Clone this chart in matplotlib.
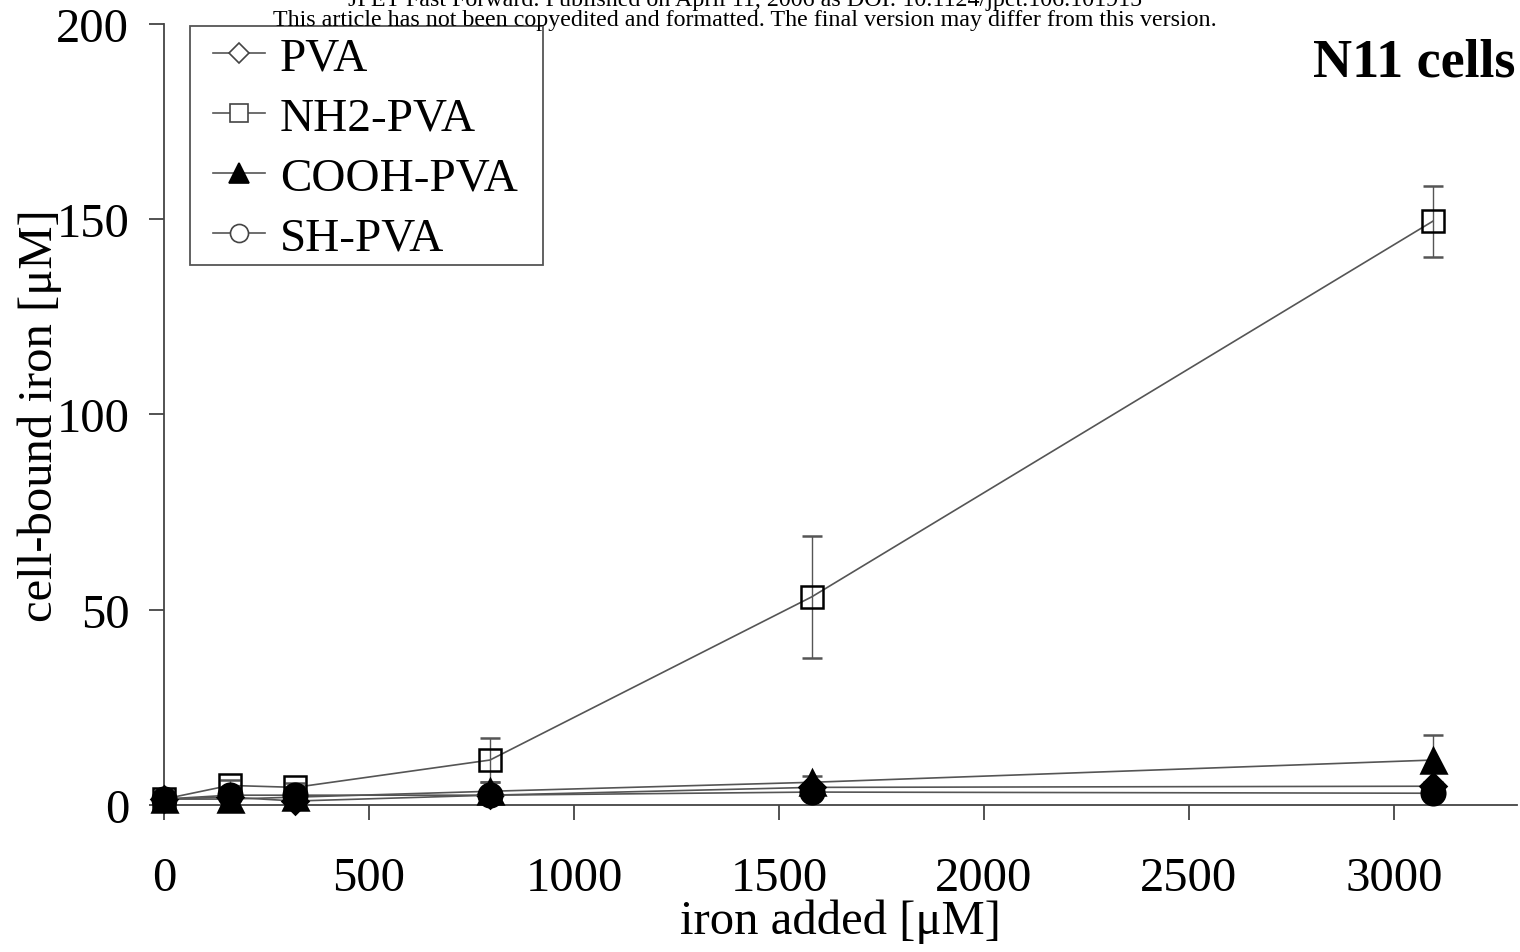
import matplotlib
matplotlib.use("Agg")
import matplotlib.pyplot as plt
from matplotlib.lines import Line2D
from matplotlib.patches import Rectangle

plt.rcParams['font.family'] = ['Liberation Serif', 'DejaVu Serif']
plt.rcParams['mathtext.fontset'] = 'stix'

iron_added = [0, 160, 320, 795, 1580, 3095]
pva = [1.5, 2.0, 1.0, 2.5, 4.5, 4.8]
pva_err = [0.3, 0.5, 0.4, 0.8, 0.8, 1.0]
nh2_pva = [1.5, 5.0, 4.5, 11.5, 53.3, 149.5]
nh2_err = [0.5, 1.5, 1.0, 5.7, 15.6, 9.1]
cooh_pva = [1.5, 1.5, 2.0, 3.5, 5.8, 11.5]
cooh_err = [0.3, 0.5, 0.5, 2.5, 1.5, 6.5]
sh_pva = [1.5, 2.5, 2.5, 2.5, 3.3, 3.0]
sh_err = [0.3, 0.5, 0.5, 0.5, 0.6, 0.8]

labels = ["PVA", "NH2-PVA", "COOH-PVA", "SH-PVA"]
x_ticks = [0, 500, 1000, 1500, 2000, 2500, 3000]
y_ticks = [0, 50, 100, 150, 200]

W, H = 1520, 953
fig = plt.figure(figsize=(15.2, 9.53), dpi=100)
ax = fig.add_axes([0.1079, 0.1543, 0.8901, 0.8195])

lc = '#555555'
common = dict(color=lc, lw=1.2, ecolor=lc, elinewidth=1.0, capsize=7, capthick=1.0,
              markeredgecolor='black', markeredgewidth=1.8, clip_on=False)

ax.errorbar(iron_added, nh2_pva, yerr=nh2_err, marker='s', ms=16, mfc='none', zorder=3, **common)
ax.errorbar(iron_added, cooh_pva, yerr=cooh_err, marker='^', ms=18, mfc='black', zorder=4, **common)
ax.errorbar(iron_added, pva, yerr=pva_err, marker='D', ms=13, mfc='black', zorder=4, **common)
ax.errorbar(iron_added, sh_pva, yerr=sh_err, marker='o', ms=17, mfc='black', zorder=5, **common)

ax.set_xlim(0, 3300)
ax.set_ylim(0, 200)
ax.set_xticks(x_ticks)
ax.set_yticks(y_ticks)
for s in ['top', 'right']:
    ax.spines[s].set_visible(False)
for s in ['left', 'bottom']:
    ax.spines[s].set_color('#444444')
    ax.spines[s].set_linewidth(1.3)
ax.tick_params(direction='out', length=11, width=1.3, color='#444444', labelsize=35, pad=14)
ax.tick_params(axis='x', pad=26)

ax.set_xlabel("iron added [μM]", fontsize=35, labelpad=-1)
ax.set_ylabel("cell-bound iron [μM]", fontsize=35, labelpad=-4)

handles = [
    Line2D([], [], color=lc, lw=1.2, marker='D', ms=10, mfc='white', mec='#444444', mew=1.2),
    Line2D([], [], color=lc, lw=1.2, marker='s', ms=13, mfc='white', mec='#444444', mew=1.2),
    Line2D([], [], color=lc, lw=1.2, marker='^', ms=14, mfc='black', mec='black', mew=1.2),
    Line2D([], [], color=lc, lw=1.2, marker='o', ms=13, mfc='white', mec='#444444', mew=1.2),
]
leg = ax.legend(handles, labels, loc='upper left', bbox_to_anchor=(213 / W, 1 - 37 / H),
                bbox_transform=fig.transFigure,
                fontsize=34, frameon=False, handlelength=1.1,
                handletextpad=0.32, labelspacing=0.36, borderpad=0, borderaxespad=0)
fig.patches.append(Rectangle((190 / W, 1 - 266 / H), 353 / W, 239 / H, transform=fig.transFigure,
                             fill=False, edgecolor='#555555', linewidth=1.3, zorder=1))

fig.text(0.997, 0.933, "N11 cells", fontsize=39, fontweight='bold', ha='right', va='center')
fig.text(0.49, 0.999, "JPET Fast Forward. Published on April 11, 2006 as DOI: 10.1124/jpet.106.101915",
         fontsize=17.3, ha='center', va='center')
fig.text(0.49, 0.978, "This article has not been copyedited and formatted. The final version may differ from this version.",
         fontsize=17.3, ha='center', va='center')

fig.savefig("out.png", dpi=100)
